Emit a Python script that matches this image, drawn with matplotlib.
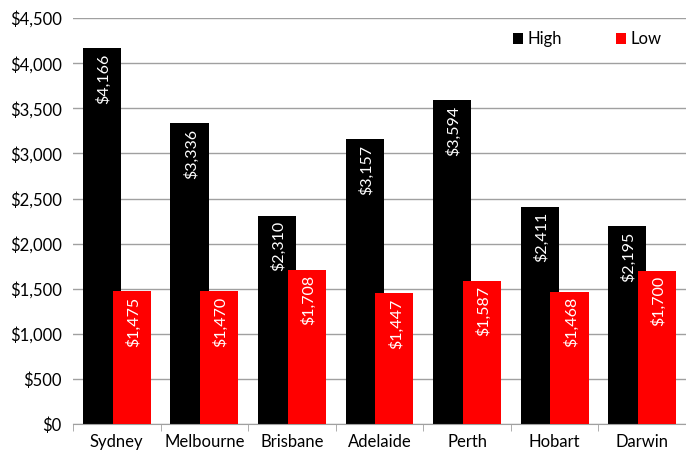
import numpy as np
import matplotlib.pyplot as plt

cities = ['Sydney', 'Melbourne', 'Brisbane', 'Adelaide', 'Perth', 'Hobart', 'Darwin']
high = [4166, 3336, 2310, 3157, 3594, 2411, 2195]
low = [1475, 1470, 1708, 1447, 1587, 1468, 1700]

plt.rcParams['font.family'] = ['Lato', 'DejaVu Sans']

fig = plt.figure(figsize=(6.86, 4.53), dpi=100)
ax = fig.add_axes([0.1064, 0.064, 0.8936, 0.896])

x = np.arange(len(cities))
w = 0.435
off = 0.17
ax.bar(x - off, high, width=w, color='black', label='High', zorder=2)
ax.bar(x + off, low, width=w, color='#ff0000', label='Low', zorder=3)

# value labels inside the bars, rotated
for i in range(len(cities)):
    ax.text(x[i] - off + 0.02, high[i] - 60, f'${high[i]:,}', rotation=90,
            ha='center', va='top', color='white', fontsize=11.5, zorder=4)
    ax.text(x[i] + off + 0.02, low[i] - 60, f'${low[i]:,}', rotation=90,
            ha='center', va='top', color='white', fontsize=11.5, zorder=4)

ax.set_xlim(-0.5, len(cities) - 0.5)
ax.set_ylim(0, 4500)
ax.set_yticks(np.arange(0, 4501, 500))
ax.set_yticklabels([f'${v:,}' for v in range(0, 4501, 500)], fontsize=12)
ax.set_xticks(x)
ax.set_xticklabels(cities, fontsize=12)
ax.set_xticks(np.arange(-0.5, len(cities)), minor=True)
ax.tick_params(axis='x', which='major', length=0, pad=7)
ax.tick_params(axis='x', which='minor', length=5, color='#a0a0a0')
ax.tick_params(axis='y', length=0, pad=8)

ax.grid(axis='y', color='#a0a0a0', linewidth=1, zorder=0)
for s in ['top', 'right', 'left']:
    ax.spines[s].set_visible(False)
ax.spines['bottom'].set_color('#a0a0a0')

ax.legend(loc='upper right', bbox_to_anchor=(0.985, 1.005), ncol=2, frameon=False,
          fontsize=12, handlelength=0.6, handleheight=0.6, handletextpad=0.3,
          columnspacing=3.2)

fig.savefig('out.png', dpi=100)
